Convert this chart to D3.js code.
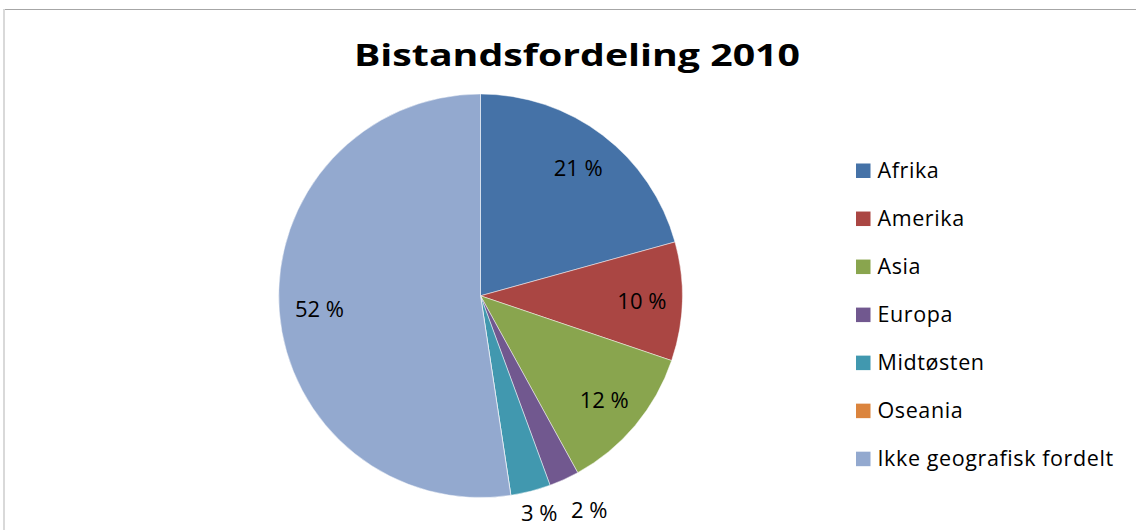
<!DOCTYPE html>
<html>
<head>
<meta charset="utf-8">
<script src="https://cdn.jsdelivr.net/npm/d3@7"></script>
<style>
  html, body { margin: 0; padding: 0; background: #ffffff; }
  svg { display: block; }
</style>
</head>
<body>
<svg id="chart" width="1136" height="530"></svg>
<script>
const title = "Bistandsfordeling 2010";
const categories = ["Afrika", "Amerika", "Asia", "Europa", "Midtøsten", "Oseania", "Ikke geografisk fordelt"];
const values = [20.7, 9.5, 11.8, 2.4, 3.2, 0.0, 52.4];
const colors = ["#4572A7", "#AA4643", "#89A54E", "#71588F", "#4198AF", "#DB843D", "#93A9CF"];
const outsideLabels = ["Europa", "Midtøsten"];

const svg = d3.select("#chart");
const W = 1136, H = 530;
const TITLE_FONT = "'Liberation Sans Narrow', 'Open Sans', sans-serif";
const FONT = "'Open Sans', Lato, sans-serif";

// chart frame
svg.append("line").attr("x1", 4).attr("x2", W).attr("y1", 9.5).attr("y2", 9.5)
  .attr("stroke", "#a6a6a6").attr("stroke-width", 1);
svg.append("line").attr("x1", 4).attr("x2", 4).attr("y1", 9).attr("y2", H)
  .attr("stroke", "#d9d9d9").attr("stroke-width", 2);

// title
svg.append("text")
  .attr("x", 577).attr("y", 66)
  .attr("text-anchor", "middle")
  .attr("font-family", TITLE_FONT)
  .attr("font-weight", "bold")
  .attr("font-size", 30)
  .attr("fill", "#000")
  .attr("textLength", 446)
  .attr("lengthAdjust", "spacingAndGlyphs")
  .text(title);

// pie
const cx = 480.5, cy = 295.8, r = 201.8;
const data = categories.map((c, i) => ({ name: c, value: values[i], color: colors[i] }));
const pie = d3.pie().sort(null).value(d => d.value);
const arcs = pie(data);
const arc = d3.arc().innerRadius(0).outerRadius(r);
const labelArc = d3.arc().innerRadius(r * 0.8).outerRadius(r * 0.8);

const g = svg.append("g").attr("transform", `translate(${cx},${cy})`);
g.selectAll("path.slice")
  .data(arcs)
  .join("path")
  .attr("class", "slice")
  .attr("d", arc)
  .attr("fill", d => d.data.color)
  .attr("stroke", "#ffffff")
  .attr("stroke-width", 0.6)
  .attr("stroke-opacity", 0.8);

const fmt = v => `${Math.round(v)} %`;
const labelSize = 22;

// label positions: inside at 0.8r, small slices outside, pushed apart if they collide
const labelData = arcs.filter(d => d.data.value > 0).map(d => {
  let x, y;
  if (outsideLabels.includes(d.data.name)) {
    const a = (d.startAngle + d.endAngle) / 2;
    const rr = r + 15;
    x = Math.sin(a) * (rr + 19);
    y = -Math.cos(a) * (rr + 6);
  } else {
    [x, y] = labelArc.centroid(d);
  }
  return { d, x, y, outside: outsideLabels.includes(d.data.name) };
});
const outs = labelData.filter(l => l.outside).sort((a, b) => a.x - b.x);
for (let i = 1; i < outs.length; i++) {
  const minGap = 50;
  if (outs[i].x - outs[i - 1].x < minGap) {
    outs[i].x = outs[i - 1].x + minGap;
    outs[i].y = Math.max(outs[i].y, outs[i - 1].y - 3);
  }
}

g.selectAll("text.lbl")
  .data(labelData)
  .join("text")
  .attr("class", "lbl")
  .attr("font-family", FONT)
  .attr("font-size", labelSize)
  .attr("fill", "#000")
  .attr("text-anchor", "middle")
  .attr("dominant-baseline", "central")
  .attr("transform", l => `translate(${l.x},${l.y})`)
  .text(l => fmt(l.d.data.value));

// legend
const legend = svg.append("g").attr("transform", "translate(856,163.5)");
const ly = d3.scalePoint().domain(categories).range([0, 48.03 * (categories.length - 1)]);
const items = legend.selectAll("g.item").data(data).join("g")
  .attr("class", "item")
  .attr("transform", d => `translate(0,${ly(d.name)})`);
items.append("rect").attr("x", 0).attr("y", 0).attr("width", 14.5).attr("height", 14.5)
  .attr("fill", d => d.color);
items.append("text").attr("x", 21.5).attr("y", 14)
  .attr("font-family", FONT)
  .attr("font-size", 21.5)
  .attr("letter-spacing", 0.6)
  .attr("fill", "#000")
  .text(d => d.name);
</script>
</body>
</html>
